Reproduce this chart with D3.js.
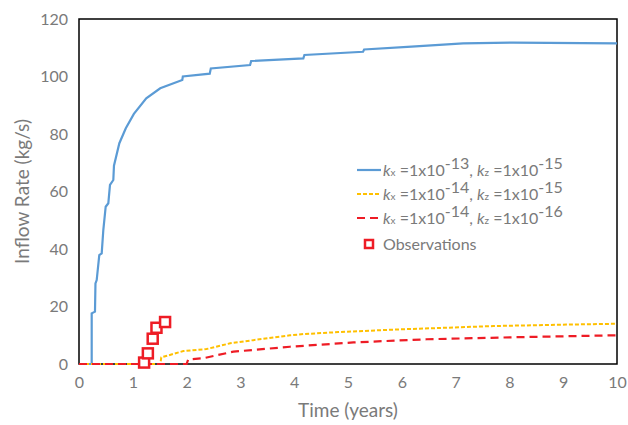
<!DOCTYPE html>
<html>
<head>
<meta charset="utf-8">
<script src="https://cdn.jsdelivr.net/npm/d3@7"></script>
<style>
  body { margin: 0; background: #fff; }
  svg { font-family: Lato, "Noto Sans", sans-serif; }
</style>
</head>
<body>
<script>
// data
var blueT = [0, 0.236, 0.236, 0.297, 0.306, 0.329, 0.377, 0.422, 0.452, 0.496, 0.545, 0.576, 0.638, 0.65, 0.75, 0.87, 1.02, 1.25, 1.51, 1.92, 1.93, 2.43, 2.45, 3.18, 3.2, 4.17, 4.19, 5.28, 5.3, 6.18, 7.14, 8.07, 10];
var blueV = [0, 0, 17.6, 18.2, 28, 29.2, 37.9, 38.5, 46.6, 54.7, 55.9, 62.3, 64, 69, 76.8, 82, 87, 92.4, 95.9, 98.8, 100, 101, 102.8, 104, 105.4, 106.3, 107.5, 108.6, 109.4, 110.4, 111.5, 111.8, 111.5];

var yellowT = [0, 1.51, 1.53, 1.94, 2.37, 2.81, 3.24, 3.74, 3.92, 4.17, 4.82, 5.9, 7.7, 9.06, 10];
var yellowV = [0, 0, 2.3, 4.5, 5.2, 7.2, 8.3, 9.5, 10, 10.4, 11.1, 12, 13.2, 13.7, 14.0];

var redT = [0, 2.0, 2.03, 2.31, 2.87, 3.74, 3.92, 5.1, 6.46, 8.07, 10];
var redV = [0, 0, 1.6, 2, 4.3, 5.7, 6, 7.5, 8.6, 9.3, 10];

var obsT = [1.21, 1.28, 1.37, 1.44, 1.60];
var obsV = [0.5, 3.7, 8.8, 12.6, 14.6];

var xTicks = [0, 1, 2, 3, 4, 5, 6, 7, 8, 9, 10];
var yTicks = [0, 20, 40, 60, 80, 100, 120];

var W = 628, H = 425;
var margin = { left: 79, top: 19, right: 11, bottom: 61 };
var grey = "#7a7a7a";

var svg = d3.select("body").append("svg")
    .attr("width", W)
    .attr("height", H);

var x = d3.scaleLinear().domain([0, 10]).range([margin.left, W - margin.right]);
var y = d3.scaleLinear().domain([0, 120]).range([H - margin.bottom, margin.top]);

// axes (labels only)
var xAxis = svg.append("g")
    .attr("transform", "translate(0," + (H - margin.bottom) + ")")
    .call(d3.axisBottom(x).tickValues(xTicks).tickSize(0).tickPadding(13).tickFormat(d3.format("d")));
var yAxis = svg.append("g")
    .attr("transform", "translate(" + margin.left + ",0)")
    .call(d3.axisLeft(y).tickValues(yTicks).tickSize(0).tickPadding(11).tickFormat(d3.format("d")));
[xAxis, yAxis].forEach(function (g) {
    g.select(".domain").remove();
    g.selectAll("text").attr("fill", grey).attr("font-size", 16).attr("font-family", "Lato, sans-serif");
});

// plot frame (under the lines, like the original)
svg.append("rect")
    .attr("x", margin.left)
    .attr("y", margin.top)
    .attr("width", W - margin.left - margin.right)
    .attr("height", H - margin.top - margin.bottom)
    .attr("fill", "none")
    .attr("stroke", "#000")
    .attr("stroke-width", 1.5);

function series(ts, vs) {
    return ts.map(function (t, i) { return [t, vs[i]]; });
}
var line = d3.line().x(function (d) { return x(d[0]); }).y(function (d) { return y(d[1]); });

svg.append("path")
    .datum(series(blueT, blueV))
    .attr("d", line)
    .attr("fill", "none")
    .attr("stroke", "#5b9bd5")
    .attr("stroke-width", 2.2);

svg.append("path")
    .datum(series(yellowT, yellowV))
    .attr("d", line)
    .attr("fill", "none")
    .attr("stroke", "#ffc000")
    .attr("stroke-width", 2)
    .attr("stroke-dasharray", "4,2");

svg.append("path")
    .datum(series(redT, redV))
    .attr("d", line)
    .attr("fill", "none")
    .attr("stroke", "#ee1c25")
    .attr("stroke-width", 2.2)
    .attr("stroke-dasharray", "8,5");

svg.append("g")
    .selectAll("rect")
    .data(series(obsT, obsV))
    .enter()
    .append("rect")
    .attr("x", function (d) { return x(d[0]) - 5; })
    .attr("y", function (d) { return y(d[1]) - 5; })
    .attr("width", 10)
    .attr("height", 10)
    .attr("fill", "#fff")
    .attr("stroke", "#ee1c25")
    .attr("stroke-width", 2.5);

// axis titles
svg.append("text")
    .attr("x", (margin.left + W - margin.right) / 2)
    .attr("y", 417)
    .attr("text-anchor", "middle")
    .attr("fill", grey)
    .attr("font-size", 19)
    .text("Time (years)");

svg.append("text")
    .attr("transform", "translate(29," + ((margin.top + H - margin.bottom) / 2) + ") rotate(-90)")
    .attr("text-anchor", "middle")
    .attr("fill", grey)
    .attr("font-size", 19)
    .text("Inflow Rate (kg/s)");

// legend
var legendItems = [
    { kx: "-13", kz: "-15", color: "#5b9bd5", dash: null, w: 2.2 },
    { kx: "-14", kz: "-15", color: "#ffc000", dash: "4,2", w: 2 },
    { kx: "-14", kz: "-16", color: "#ee1c25", dash: "8,5", w: 2.2 }
];
var legendY = [170, 194, 218];
var lg = svg.append("g");
legendItems.forEach(function (it, i) {
    var ly = legendY[i];
    lg.append("line")
        .attr("x1", 357).attr("x2", 381)
        .attr("y1", ly).attr("y2", ly)
        .attr("stroke", it.color)
        .attr("stroke-width", it.w)
        .attr("stroke-dasharray", it.dash);
    var t = lg.append("text")
        .attr("x", 383)
        .attr("y", ly + 6)
        .attr("fill", grey)
        .attr("font-size", 16);
    t.append("tspan").attr("font-style", "italic").text("k");
    t.append("tspan").attr("font-size", 10).text("x");
    t.append("tspan").text(" =1x10");
    t.append("tspan").attr("dy", -7).text(it.kx);
    t.append("tspan").attr("dy", 7).text(", ");
    t.append("tspan").attr("font-style", "italic").text("k");
    t.append("tspan").attr("font-size", 10).text("z");
    t.append("tspan").text(" =1x10");
    t.append("tspan").attr("dy", -7).text(it.kz);
});
lg.append("rect")
    .attr("x", 365).attr("y", 240)
    .attr("width", 8).attr("height", 8)
    .attr("fill", "#fff")
    .attr("stroke", "#ee1c25")
    .attr("stroke-width", 2.5);
lg.append("text")
    .attr("x", 383)
    .attr("y", 250)
    .attr("fill", grey)
    .attr("font-size", 16)
    .text("Observations");
</script>
</body>
</html>
